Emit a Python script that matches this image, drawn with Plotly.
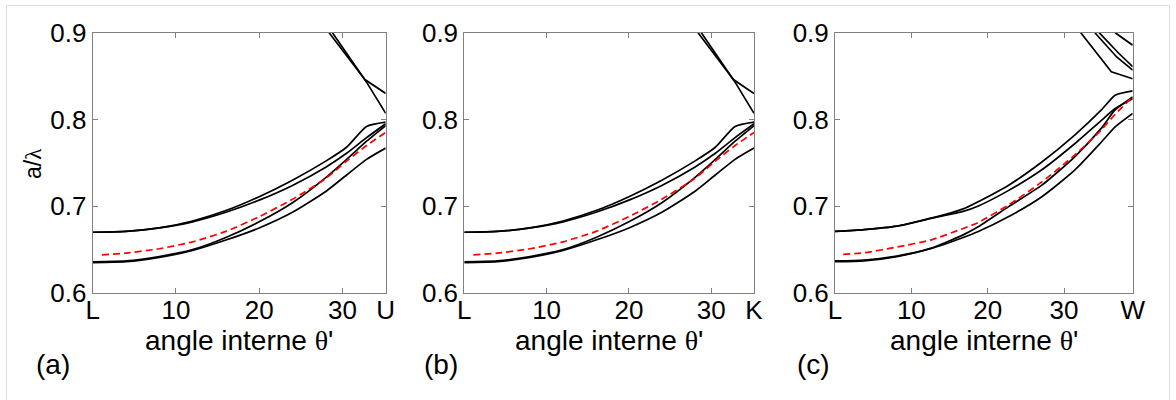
import plotly.graph_objects as go

# ---------------- data ----------------
# panels (a) and (b): L -> U and L -> K
x_ab = [0, 4, 8, 12, 16, 20, 24, 28, 30.5, 32.9, 35.2]
band1_ab = [0.670, 0.671, 0.675, 0.683, 0.695, 0.711, 0.730, 0.752, 0.768, 0.792, 0.797]
band2_ab = [0.670, 0.671, 0.675, 0.682, 0.693, 0.707, 0.724, 0.745, 0.761, 0.779, 0.795]
band3_ab = [0.636, 0.637, 0.642, 0.650, 0.664, 0.682, 0.704, 0.733, 0.754, 0.775, 0.793]
band4_ab = [0.635, 0.636, 0.641, 0.649, 0.661, 0.675, 0.693, 0.717, 0.736, 0.754, 0.767]
xred_ab = [1.1, 4, 8, 12, 16, 20, 24, 28, 30.5, 32.9, 35.2]
red_ab = [0.644, 0.646, 0.651, 0.659, 0.671, 0.688, 0.708, 0.732, 0.752, 0.770, 0.785]
xd1_ab = [28.4, 32.7, 35.2]
d1_ab = [0.900, 0.846, 0.830]
xd2_ab = [28.8, 32.9, 35.2]
d2_ab = [0.900, 0.843, 0.807]

# panel (c): L -> W
x_c = [0, 3.8, 8.1, 12.5, 16.8, 18.7, 22.7, 27.1, 31.4, 34.9, 36.7, 39.0]
band1_c = [0.671, 0.673, 0.677, 0.686, 0.697, 0.705, 0.724, 0.751, 0.782, 0.811, 0.828, 0.833]
band2_c = [0.671, 0.673, 0.677, 0.686, 0.694, 0.700, 0.718, 0.742, 0.772, 0.799, 0.8127, 0.824]
band3_c = [0.637, 0.638, 0.6425, 0.6514, 0.667, 0.676, 0.6993, 0.7243, 0.757, 0.790, 0.811, 0.826]
band4_c = [0.636, 0.637, 0.642, 0.651, 0.664, 0.6705, 0.6878, 0.711, 0.7416, 0.774, 0.7915, 0.807]
xred_c = [1.07, 3.8, 8.1, 12.5, 16.8, 18.7, 22.7, 27.1, 31.4, 34.9, 36.7, 39.0]
red_c = [0.6445, 0.6463, 0.653, 0.661, 0.6744, 0.681, 0.7013, 0.728, 0.759, 0.788, 0.806, 0.826]
xe1_c = [32.2, 36.2, 39.0]
e1_c = [0.900, 0.855, 0.847]
xe2_c = [34.05, 36.9, 39.0]
e2_c = [0.900, 0.872, 0.857]
xe3_c = [34.6, 37.2, 39.0]
e3_c = [0.900, 0.876, 0.861]
xe4_c = [36.7, 39.0]
e4_c = [0.900, 0.8856]

end_a, end_b, end_c = 35.2, 35.2, 39.0
xticks_num = [0, 10, 20, 30]
end_labels = ["U", "K", "W"]
yticks = [0.6, 0.7, 0.8, 0.9]
panel_labels = ["(a)", "(b)", "(c)"]

# ---------------- figure ----------------
W, H = 1176, 400
fig = go.Figure()

BLACK = dict(color="black", width=1.7, shape="spline", smoothing=0.6)
STRAIGHT = dict(color="black", width=1.7)
RED = dict(color="#ff0000", width=1.7, dash="7px,4px", shape="spline", smoothing=0.6)

def add_panel(k, xb, bands, xr, yr, tops):
    xa = "x" if k == 1 else f"x{k}"
    ya = "y" if k == 1 else f"y{k}"
    for yb in bands:
        fig.add_trace(go.Scatter(x=xb, y=yb, mode="lines", line=BLACK,
                                 xaxis=xa, yaxis=ya, showlegend=False))
    for (xt, yt) in tops:
        fig.add_trace(go.Scatter(x=xt, y=yt, mode="lines", line=STRAIGHT,
                                 xaxis=xa, yaxis=ya, showlegend=False))
    fig.add_trace(go.Scatter(x=xr, y=yr, mode="lines", line=RED,
                             xaxis=xa, yaxis=ya, showlegend=False))

add_panel(1, x_ab, [band1_ab, band2_ab, band3_ab, band4_ab], xred_ab, red_ab,
          [(xd1_ab, d1_ab), (xd2_ab, d2_ab)])
add_panel(2, x_ab, [band1_ab, band2_ab, band3_ab, band4_ab], xred_ab, red_ab,
          [(xd1_ab, d1_ab), (xd2_ab, d2_ab)])
add_panel(3, x_c, [band1_c, band2_c, band3_c, band4_c], xred_c, red_c,
          [(xe1_c, e1_c), (xe2_c, e2_c), (xe3_c, e3_c), (xe4_c, e4_c)])

# pixel geometry of the three plot boxes
boxes = [(92.7, 385.7), (464.3, 754.0), (835.0, 1132.7)]
top_px, bot_px = 32.7, 293.0
ends = [end_a, end_b, end_c]

FONT = "Liberation Sans, Arial, sans-serif"
axis_common = dict(showline=True, linecolor="#808080", linewidth=1, mirror="ticks",
                   ticks="inside", ticklen=5, tickcolor="#808080", showgrid=False,
                   zeroline=False, automargin=False,
                   tickfont=dict(family=FONT, size=26, color="black"))

layout = dict(width=W, height=H, margin=dict(l=0, r=0, t=0, b=0),
              paper_bgcolor="white", plot_bgcolor="white", showlegend=False)
for i, ((l, r), e, lab) in enumerate(zip(boxes, ends, end_labels), start=1):
    sx = "" if i == 1 else str(i)
    layout["xaxis" + sx] = dict(axis_common, domain=[l / W, r / W], range=[0, e],
                                tickvals=xticks_num + [e],
                                ticktext=["L", "10", "20", "30", lab],
                                ticklabelstandoff=-6,
                                anchor="y" + sx)
    layout["yaxis" + sx] = dict(axis_common, domain=[1 - bot_px / H, 1 - top_px / H],
                                range=[0.6, 0.9], tickvals=yticks,
                                ticktext=[f"{v:.1f}" for v in yticks],
                                anchor="x" + sx)
fig.update_layout(**layout)

annotations = []
for i, ((l, r), lab) in enumerate(zip(boxes, panel_labels)):
    cx = (l + r) / 2
    annotations.append(dict(
        x=cx / W, y=1 - 340 / H, xref="paper", yref="paper", showarrow=False,
        xanchor="center", yanchor="middle",
        text="angle interne <span style='font-family:Liberation Serif'>θ</span>'",
        font=dict(family=FONT, size=28, color="black")))
    annotations.append(dict(
        x=[53, 441, 813][i] / W, y=1 - 364 / H, xref="paper", yref="paper",
        showarrow=False, xanchor="center", yanchor="middle", text=lab,
        font=dict(family=FONT, size=28, color="black")))
annotations.append(dict(
    x=33 / W, y=1 - 164 / H, xref="paper", yref="paper", showarrow=False,
    xanchor="center", yanchor="middle", textangle=-90,
    text="a/<span style='font-family:Liberation Serif'>λ</span>",
    font=dict(family=FONT, size=23, color="black")))
fig.update_layout(annotations=annotations)

# light frame around the figure
frame = dict(type="line", xref="paper", yref="paper",
             line=dict(color="#dcdcdc", width=1))
fig.update_layout(shapes=[
    dict(frame, x0=6.5 / W, x1=1169.5 / W, y0=1 - 5.5 / H, y1=1 - 5.5 / H),
    dict(frame, x0=6.5 / W, x1=6.5 / W, y0=0, y1=1 - 5.5 / H),
    dict(frame, x0=1169.5 / W, x1=1169.5 / W, y0=0, y1=1 - 5.5 / H),
])

fig.write_html("out.html", config={"displayModeBar": False},
               post_script="document.body.style.margin='0px';")
